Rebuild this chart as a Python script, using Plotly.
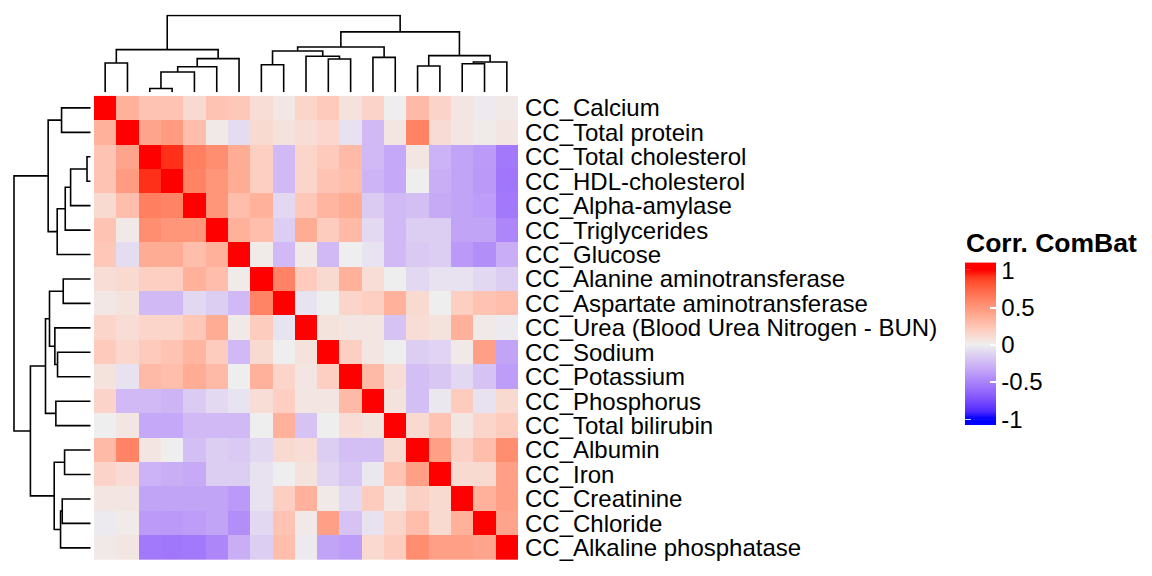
import numpy as np
import plotly.graph_objects as go

# ---------------- data ----------------
labels = ["CC_Calcium", "CC_Total protein", "CC_Total cholesterol", "CC_HDL-cholesterol",
          "CC_Alpha-amylase", "CC_Triglycerides", "CC_Glucose", "CC_Alanine aminotransferase",
          "CC_Aspartate aminotransferase", "CC_Urea (Blood Urea Nitrogen - BUN)", "CC_Sodium",
          "CC_Potassium", "CC_Phosphorus", "CC_Total bilirubin", "CC_Albumin", "CC_Iron",
          "CC_Creatinine", "CC_Chloride", "CC_Alkaline phosphatase"]

corr = [
    [1, 0.35, 0.25, 0.25, 0.12, 0.25, 0.22, 0.10, 0.04, 0.15, 0.21, 0.07, 0.16, 0.00, 0.30, 0.16, 0.05, -0.02, 0.03],
    [0.35, 1, 0.42, 0.47, 0.28, 0.03, -0.08, 0.12, 0.07, 0.10, 0.14, -0.06, -0.25, 0.05, 0.60, 0.11, 0.05, 0.02, 0.05],
    [0.25, 0.42, 1, 0.92, 0.62, 0.55, 0.38, 0.18, -0.25, 0.15, 0.21, 0.30, -0.25, -0.33, 0.05, -0.28, -0.35, -0.39, -0.55],
    [0.25, 0.47, 0.92, 1, 0.60, 0.50, 0.38, 0.18, -0.25, 0.15, 0.25, 0.28, -0.27, -0.33, 0.00, -0.30, -0.35, -0.40, -0.56],
    [0.12, 0.28, 0.62, 0.60, 1, 0.50, 0.28, 0.35, -0.10, 0.23, 0.33, 0.38, -0.16, -0.25, -0.22, -0.32, -0.35, -0.38, -0.55],
    [0.25, 0.03, 0.55, 0.50, 0.50, 1, 0.35, 0.28, -0.15, 0.38, 0.20, 0.30, -0.09, -0.25, -0.15, -0.15, -0.35, -0.35, -0.48],
    [0.22, -0.08, 0.38, 0.38, 0.28, 0.35, 1, 0.02, -0.25, 0.03, -0.25, 0.00, -0.05, -0.25, -0.17, -0.15, -0.40, -0.45, -0.30],
    [0.10, 0.12, 0.18, 0.18, 0.35, 0.28, 0.02, 1, 0.60, 0.20, 0.12, 0.35, 0.10, 0.00, -0.10, -0.06, -0.06, -0.10, -0.15],
    [0.04, 0.07, -0.25, -0.25, -0.10, -0.15, -0.25, 0.60, 1, -0.05, 0.00, 0.15, 0.18, 0.35, 0.12, 0.00, 0.18, 0.25, 0.28],
    [0.15, 0.10, 0.15, 0.15, 0.23, 0.38, 0.03, 0.20, -0.05, 1, 0.07, 0.05, 0.05, -0.20, 0.10, 0.07, 0.35, 0.03, -0.02],
    [0.21, 0.14, 0.21, 0.25, 0.33, 0.20, -0.25, 0.12, 0.00, 0.07, 1, 0.18, 0.05, 0.00, -0.15, -0.12, 0.03, 0.45, -0.35],
    [0.07, -0.06, 0.30, 0.28, 0.38, 0.30, 0.00, 0.35, 0.15, 0.05, 0.18, 1, 0.30, 0.10, -0.22, -0.18, -0.10, -0.20, -0.38],
    [0.16, -0.25, -0.25, -0.27, -0.16, -0.09, -0.05, 0.10, 0.18, 0.05, 0.05, 0.30, 1, 0.07, -0.22, -0.03, 0.20, -0.06, 0.12],
    [0.00, 0.05, -0.33, -0.33, -0.25, -0.25, -0.25, 0.00, 0.35, -0.20, 0.00, 0.10, 0.07, 1, 0.12, 0.25, 0.05, 0.15, 0.20],
    [0.30, 0.60, 0.05, 0.00, -0.22, -0.15, -0.17, -0.10, 0.12, 0.10, -0.15, -0.22, -0.22, 0.12, 1, 0.45, 0.17, 0.28, 0.55],
    [0.16, 0.11, -0.28, -0.30, -0.32, -0.15, -0.15, -0.06, 0.00, 0.07, -0.12, -0.18, -0.03, 0.25, 0.45, 1, 0.12, 0.12, 0.45],
    [0.05, 0.05, -0.35, -0.35, -0.35, -0.35, -0.40, -0.06, 0.18, 0.35, 0.03, -0.10, 0.20, 0.05, 0.17, 0.12, 1, 0.35, 0.45],
    [-0.02, 0.02, -0.39, -0.40, -0.38, -0.35, -0.45, -0.10, 0.25, 0.03, 0.45, -0.20, -0.06, 0.15, 0.28, 0.12, 0.35, 1, 0.42],
    [0.03, 0.05, -0.55, -0.56, -0.55, -0.48, -0.30, -0.15, 0.28, -0.02, -0.35, -0.38, 0.12, 0.20, 0.55, 0.45, 0.45, 0.42, 1],
]

# hclust-style merges: negative = leaf (1-based position), positive = earlier merge (1-based)
merge_left = [-3, 1, 2, 3, -1, 5, -8, -11, -10, 7, -13, 10, -15, -17, 14, 13, 12, 6]
merge_right = [-4, -5, -6, -7, -2, 4, -9, -12, 8, 9, -14, 11, -16, -18, -19, 15, 16, 17]
merge_height = [11, 60, 76, 100, 87, 127, 82, 99, 107, 123, 104, 135, 78, 85, 90, 109, 180, 229]

legend_title = "Corr. ComBat"
legend_ticks = [-1, -0.5, 0, 0.5, 1]
legend_ticktext = ["-1", "-0.5", "0", "0.5", "1"]

# ---------------- colour ramp (LAB interpolation, like colorRamp2) ----------------
def srgb_to_lab(rgb):
    c = np.array(rgb, float) / 255
    c = np.where(c <= 0.04045, c / 12.92, ((c + 0.055) / 1.055) ** 2.4)
    M = np.array([[0.4124, 0.3576, 0.1805], [0.2126, 0.7152, 0.0722], [0.0193, 0.1192, 0.9505]])
    xyz = M @ c / np.array([0.95047, 1.0, 1.08883])
    f = np.where(xyz > 0.008856, np.cbrt(xyz), 7.787 * xyz + 16 / 116)
    return np.array([116 * f[1] - 16, 500 * (f[0] - f[1]), 200 * (f[1] - f[2])])

def lab_to_srgb(lab):
    L, a, b = lab
    fy = (L + 16) / 116
    fx = fy + a / 500
    fz = fy - b / 200
    f = np.array([fx, fy, fz])
    xyz = np.where(f ** 3 > 0.008856, f ** 3, (f - 16 / 116) / 7.787) * np.array([0.95047, 1.0, 1.08883])
    Mi = np.array([[3.2406, -1.5372, -0.4986], [-0.9689, 1.8758, 0.0415], [0.0557, -0.2040, 1.0570]])
    c = np.clip(Mi @ xyz, 0, 1)
    c = np.where(c <= 0.0031308, 12.92 * c, 1.055 * c ** (1 / 2.4) - 0.055)
    return tuple(int(round(v)) for v in np.clip(c, 0, 1) * 255)

blue, mid, red = srgb_to_lab((0, 0, 255)), srgb_to_lab((238, 238, 238)), srgb_to_lab((255, 0, 0))
colorscale = []
n = 20
for i in range(n + 1):
    t = i / n
    v = -1 + 2 * t
    lab = blue + (mid - blue) * (v + 1) if v <= 0 else mid + (red - mid) * v
    colorscale.append([t, "rgb(%d,%d,%d)" % lab_to_srgb(lab)])

# ---------------- dendrogram geometry from merges ----------------
def dendro_segments():
    pos, hgt = {}, {}
    segs = []
    def get(ref):
        if ref < 0:
            return -ref - 1, 0.0
        return pos[ref], hgt[ref]
    for k, (l, r, h) in enumerate(zip(merge_left, merge_right, merge_height), start=1):
        xl, hl = get(l)
        xr, hr = get(r)
        segs.append([(xl, hl), (xl, h), (xr, h), (xr, hr)])
        pos[k] = (xl + xr) / 2
        hgt[k] = h
    return segs

segs = dendro_segments()
tx, ty = [], []
for s in segs:
    for p in s:
        tx.append(p[0]); ty.append(p[1])
    tx.append(None); ty.append(None)

W, H = 1152, 576
nleaf = len(labels)
idx = list(range(nleaf))
FONT = "Liberation Sans, Arial"

hm_left, hm_right, hm_top, hm_bottom = 94, 518, 95, 561
root_h = max(merge_height)

fig = go.Figure()
fig.add_trace(go.Heatmap(
    z=corr, x=idx, y=idx, zmin=-1, zmax=1, colorscale=colorscale,
    xaxis="x", yaxis="y", hoverinfo="skip",
    colorbar=dict(
        x=965 / W, xanchor="left", xpad=0, y=1 - 345 / H, yanchor="middle", ypad=0,
        len=149, lenmode="pixels", thickness=31, thicknessmode="pixels",
        outlinewidth=0, tickvals=legend_ticks, ticktext=legend_ticktext,
        ticks="inside", ticklen=6, tickwidth=1.5, tickcolor="white",
        tickfont=dict(size=24, color="black", family=FONT),
    ),
))
fig.add_trace(go.Scatter(x=tx, y=ty, mode="lines", line=dict(color="black", width=1.6),
                         xaxis="x2", yaxis="y2", hoverinfo="skip", showlegend=False))
fig.add_trace(go.Scatter(x=ty, y=tx, mode="lines", line=dict(color="black", width=1.6),
                         xaxis="x3", yaxis="y3", hoverinfo="skip", showlegend=False))

pad = 3
top_leaf_px, top_root_px = 91.5, 14.5
scale_top = (top_leaf_px - top_root_px) / root_h
left_root_px, left_leaf_px = 14, 90.7
scale_left = (left_leaf_px - left_root_px) / root_h

hidden = dict(visible=False, showgrid=False, zeroline=False)
fig.update_layout(
    width=W, height=H, margin=dict(l=0, r=0, t=0, b=0),
    paper_bgcolor="white", plot_bgcolor="white", showlegend=False,
    font=dict(family=FONT, color="black"),
    xaxis=dict(domain=[hm_left / W, hm_right / W], range=[-0.5, nleaf - 0.5], **hidden),
    yaxis=dict(domain=[1 - hm_bottom / H, 1 - hm_top / H], range=[nleaf - 0.5, -0.5],
               side="right", tickvals=idx, ticktext=labels, showgrid=False, zeroline=False,
               ticks="", showline=False, ticklabelstandoff=6,
               tickfont=dict(size=24, color="black", family=FONT)),
    xaxis2=dict(domain=[hm_left / W, hm_right / W], range=[-0.5, nleaf - 0.5], anchor="y2", **hidden),
    yaxis2=dict(domain=[1 - top_leaf_px / H, 1 - (top_root_px - pad * scale_top) / H],
                range=[0, root_h + pad], anchor="x2", **hidden),
    xaxis3=dict(domain=[(left_root_px - pad * scale_left) / W, left_leaf_px / W],
                range=[root_h + pad, 0], anchor="y3", **hidden),
    yaxis3=dict(domain=[1 - hm_bottom / H, 1 - hm_top / H], range=[nleaf - 0.5, -0.5], anchor="x3", **hidden),
)

# legend title
fig.add_annotation(text="<b>%s</b>" % legend_title, x=964 / W, y=1 - 243 / H, xref="paper", yref="paper",
                   xanchor="left", yanchor="middle", showarrow=False,
                   font=dict(size=26.5, color="black", family=FONT))

# legend bar extensions beyond +-1 and left-side tick dashes
cb_center, cb_len, cb_x0, cb_x1 = 345, 149, 965, 996
fig.add_shape(type="rect", xref="paper", yref="paper", x0=cb_x0 / W, x1=cb_x1 / W,
              y0=1 - (cb_center - cb_len / 2) / H, y1=1 - (cb_center - cb_len / 2 - 8) / H,
              fillcolor="rgb(255,0,0)", line=dict(width=0), layer="below")
fig.add_shape(type="rect", xref="paper", yref="paper", x0=cb_x0 / W, x1=cb_x1 / W,
              y0=1 - (cb_center + cb_len / 2 + 6) / H, y1=1 - (cb_center + cb_len / 2) / H,
              fillcolor="rgb(0,0,255)", line=dict(width=0), layer="below")
for v in legend_ticks:
    ypx = cb_center - v * cb_len / 2
    fig.add_shape(type="line", xref="paper", yref="paper", x0=cb_x0 / W, x1=(cb_x0 + 6) / W,
                  y0=1 - ypx / H, y1=1 - ypx / H, line=dict(color="white", width=1.5))

fig.write_html("out.html", config={"displayModeBar": False},
               post_script="document.body.style.margin='0';document.body.style.overflow='hidden';")
